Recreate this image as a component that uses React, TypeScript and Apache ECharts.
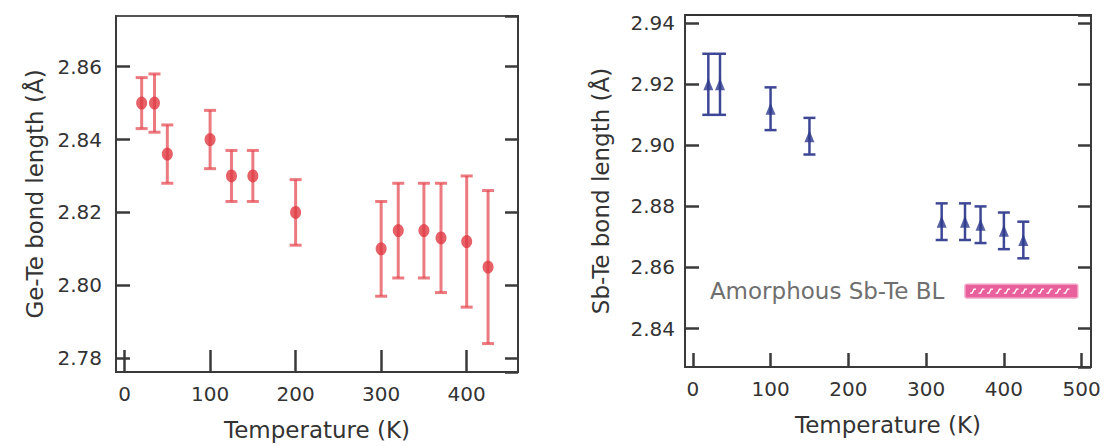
import React, { useEffect, useRef } from "react";
import * as echarts from "echarts";

// Ge-Te bond length vs temperature (left panel)
const geTemps = [20, 35, 50, 100, 125, 150, 200, 300, 320, 350, 370, 400, 425];
const geBond = [2.85, 2.85, 2.836, 2.84, 2.83, 2.83, 2.82, 2.81, 2.815, 2.815, 2.813, 2.812, 2.805];
const geLow = [2.843, 2.842, 2.828, 2.832, 2.823, 2.823, 2.811, 2.797, 2.802, 2.802, 2.798, 2.794, 2.784];
const geHigh = [2.857, 2.858, 2.844, 2.848, 2.837, 2.837, 2.829, 2.823, 2.828, 2.828, 2.828, 2.83, 2.826];

// Sb-Te bond length vs temperature (right panel)
const sbTemps = [20, 35, 100, 150, 320, 350, 370, 400, 425];
const sbBond = [2.92, 2.92, 2.912, 2.903, 2.875, 2.875, 2.874, 2.872, 2.869];
const sbLow = [2.91, 2.91, 2.905, 2.897, 2.869, 2.869, 2.868, 2.866, 2.863];
const sbHigh = [2.93, 2.93, 2.919, 2.909, 2.881, 2.881, 2.88, 2.878, 2.875];

// Amorphous Sb-Te bond length band
const amorphousLabel = "Amorphous Sb-Te BL";
const amorphousTemps = [350, 495];
const amorphousBL = [2.85, 2.8545];
const amorphousLabelPos = [22, 2.8522];

// Axis extents
const geXRange = [-10, 460];
const geYRange = [2.7762, 2.8739];
const sbXRange = [-10, 512];
const sbYRange = [2.8274, 2.9427];

const FONT = "DejaVu Sans";
const AXIS_COLOR = "#3a3a3a";
const TEXT_COLOR = "#333";

function errorRender(color: string, width: number, capHalf: number) {
  return (params: any, api: any) => {
    const x = api.value(0);
    const lo = api.coord([x, api.value(1)]);
    const hi = api.coord([x, api.value(2)]);
    const style = { stroke: color, lineWidth: width };
    return {
      type: "group",
      children: [
        { type: "line", shape: { x1: hi[0], y1: hi[1], x2: lo[0], y2: lo[1] }, style },
        { type: "line", shape: { x1: hi[0] - capHalf, y1: hi[1], x2: hi[0] + capHalf, y2: hi[1] }, style },
        { type: "line", shape: { x1: lo[0] - capHalf, y1: lo[1], x2: lo[0] + capHalf, y2: lo[1] }, style },
      ],
    };
  };
}

function xAxisCfg(grid: number, range: number[], tickLen: number, nameGap: number) {
  return {
    gridIndex: grid,
    type: "value",
    min: range[0],
    max: range[1],
    splitNumber: 5,
    axisLine: { show: true, onZero: false, lineStyle: { color: AXIS_COLOR, width: 2 } },
    axisTick: { show: true, inside: true, length: tickLen, lineStyle: { color: AXIS_COLOR, width: 2.5 } },
    axisLabel: {
      show: true,
      color: TEXT_COLOR,
      fontSize: 20,
      fontFamily: FONT,
      margin: 12,
      showMinLabel: false,
      showMaxLabel: false,
    },
    splitLine: { show: false },
    name: "Temperature (K)",
    nameLocation: "middle",
    nameGap,
    nameTextStyle: { fontSize: 23, color: TEXT_COLOR, fontFamily: FONT },
  };
}

function yAxisCfg(grid: number, range: number[], name: string, nameGap: number, margin: number) {
  return {
    gridIndex: grid,
    type: "value",
    position: "left",
    min: range[0],
    max: range[1],
    splitNumber: 5,
    axisLine: { show: true, onZero: false, lineStyle: { color: AXIS_COLOR, width: 2 } },
    axisTick: { show: true, inside: true, length: 14, lineStyle: { color: AXIS_COLOR, width: 2.5 } },
    axisLabel: {
      show: true,
      color: TEXT_COLOR,
      fontSize: 20,
      fontFamily: FONT,
      margin,
      showMinLabel: false,
      showMaxLabel: false,
      formatter: (v: number) => v.toFixed(2),
    },
    splitLine: { show: false },
    name,
    nameLocation: "middle",
    nameGap,
    nameTextStyle: { fontSize: 23, color: TEXT_COLOR, fontFamily: FONT },
  };
}

function rightAxisCfg(grid: number, range: number[]) {
  return {
    gridIndex: grid,
    type: "value",
    position: "right",
    min: range[0],
    max: range[1],
    splitNumber: 5,
    axisLine: { show: true, onZero: false, lineStyle: { color: AXIS_COLOR, width: 2 } },
    axisTick: { show: true, inside: true, length: 13, lineStyle: { color: AXIS_COLOR, width: 2.5 } },
    axisLabel: { show: false },
    splitLine: { show: false },
  };
}

export default function App() {
  const ref = useRef<HTMLDivElement>(null);

  useEffect(() => {
    if (!ref.current) return;
    const chart = echarts.init(ref.current, null, { renderer: "svg" });

    const geErr = geTemps.map((t, i) => [t, geLow[i], geHigh[i]]);
    const gePts = geTemps.map((t, i) => [t, geBond[i]]);
    const sbErr = sbTemps.map((t, i) => [t, sbLow[i], sbHigh[i]]);
    const sbPts = sbTemps.map((t, i) => [t, sbBond[i]]);

    const option: any = {
      animation: false,
      backgroundColor: "#ffffff",
      grid: [
        { left: 116, top: 16, width: 402, height: 356, show: true, borderColor: "#555", borderWidth: 2, backgroundColor: "transparent" },
        { left: 685, top: 15, width: 406, height: 352, show: true, borderColor: "#333", borderWidth: 2, backgroundColor: "transparent" },
      ],
      xAxis: [xAxisCfg(0, geXRange, 22, 46), xAxisCfg(1, sbXRange, 14, 46)],
      yAxis: [
        yAxisCfg(0, geYRange, "Ge-Te bond length (Å)", 70, 14),
        rightAxisCfg(0, geYRange),
        yAxisCfg(1, sbYRange, "Sb-Te bond length (Å)", 73, 10),
        rightAxisCfg(1, sbYRange),
      ],
      series: [
        {
          type: "custom",
          xAxisIndex: 0,
          yAxisIndex: 0,
          renderItem: errorRender("rgba(228,72,80,0.72)", 3, 6),
          encode: { x: 0, y: [1, 2] },
          data: geErr,
          z: 2,
        },
        {
          type: "scatter",
          xAxisIndex: 0,
          yAxisIndex: 0,
          symbol: "circle",
          symbolSize: [11, 13],
          itemStyle: { color: "#e03a42" },
          data: gePts,
          z: 3,
        },
        {
          type: "custom",
          xAxisIndex: 1,
          yAxisIndex: 2,
          renderItem: errorRender("#3d4795", 2.5, 6),
          encode: { x: 0, y: [1, 2] },
          data: sbErr,
          z: 2,
        },
        {
          type: "scatter",
          xAxisIndex: 1,
          yAxisIndex: 2,
          symbol: "triangle",
          symbolSize: [10, 12],
          itemStyle: { color: "#2d3a8c" },
          data: sbPts,
          z: 3,
        },
        {
          type: "custom",
          xAxisIndex: 1,
          yAxisIndex: 2,
          z: 2,
          data: [[amorphousTemps[0], amorphousTemps[1], amorphousBL[0], amorphousBL[1]]],
          renderItem: (params: any, api: any) => {
            const p0 = api.coord([api.value(0), api.value(3)]);
            const p1 = api.coord([api.value(1), api.value(2)]);
            const w = p1[0] - p0[0];
            const h = p1[1] - p0[1];
            const children: any[] = [
              {
                type: "rect",
                shape: { x: p0[0], y: p0[1], width: w, height: h, r: 2 },
                style: { fill: "#e9619c", stroke: "#f2a0c4", lineWidth: 1.5 },
              },
            ];
            const cy = p0[1] + h / 2;
            for (let x = p0[0] + 5; x < p0[0] + w - 6; x += 8.5) {
              children.push({
                type: "polyline",
                shape: { points: [[x, cy + 2], [x + 2, cy + 2], [x + 4, cy - 2], [x + 6, cy - 2]] },
                style: { stroke: "#ffffff", lineWidth: 1.4, fill: "none" },
              });
            }
            return { type: "group", children };
          },
        },
        {
          type: "custom",
          xAxisIndex: 1,
          yAxisIndex: 2,
          z: 2,
          data: [amorphousLabelPos],
          renderItem: (params: any, api: any) => {
            const p = api.coord([api.value(0), api.value(1)]);
            return {
              type: "text",
              x: p[0],
              y: p[1],
              style: {
                text: amorphousLabel,
                fill: "#6f6f6f",
                fontSize: 23,
                fontFamily: FONT,
                align: "left",
                verticalAlign: "middle",
              },
            };
          },
        },
      ],
    };

    chart.setOption(option);
    return () => chart.dispose();
  }, []);

  return (
    <div
      ref={ref}
      style={{ position: "absolute", left: 0, top: 0, width: 1113, height: 446, background: "#fff" }}
    />
  );
}
